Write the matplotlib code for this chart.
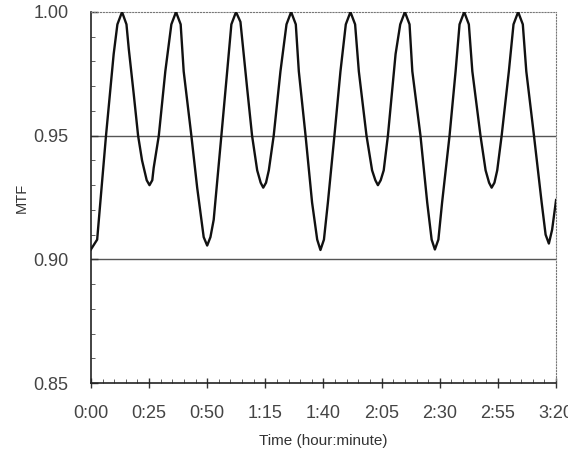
import matplotlib.pyplot as plt
from matplotlib.ticker import MultipleLocator

# values (time in minutes, MTF)
time_min = [0, 2.7, 6.5, 8.4, 9.8, 11.4, 13.4, 15.3, 16.3, 18.4, 20.3, 22.0, 24.0, 25.2,
            26.4, 27.0, 29.2, 32.0, 34.6, 36.6, 38.6, 39.9, 43.2, 45.7, 48.5, 50.0, 51.4,
            52.8, 56.1, 58.6, 60.4, 62.4, 64.3, 67.2, 69.3, 71.5, 73.0, 74.1, 75.3, 76.5,
            78.6, 81.5, 84.1, 86.1, 88.1, 89.4, 92.3, 95.1, 97.3, 98.7, 100.2, 101.9, 104.7,
            107.3, 109.6, 111.6, 113.6, 115.2, 118.5, 120.9, 122.3, 123.4, 124.6, 125.9,
            127.7, 131.0, 133.0, 135.0, 137.0, 138.2, 141.7, 144.6, 146.5, 147.9, 149.4,
            151.0, 154.2, 156.8, 158.5, 160.5, 162.5, 164.0, 167.5, 169.7, 171.2, 172.3,
            173.5, 174.7, 176.6, 179.7, 181.7, 183.7, 185.7, 187.2, 190.5, 193.8, 195.5,
            196.9, 198.3, 200.0]
mtf = [0.904, 0.908, 0.950, 0.969, 0.983, 0.995, 1.000, 0.995, 0.985, 0.967, 0.950, 0.940,
       0.932, 0.930, 0.932, 0.937, 0.950, 0.976, 0.995, 1.000, 0.995, 0.976, 0.950, 0.929,
       0.909, 0.9056, 0.909, 0.916, 0.950, 0.976, 0.995, 1.000, 0.996, 0.969, 0.950, 0.936,
       0.931, 0.929, 0.931, 0.936, 0.950, 0.976, 0.995, 1.000, 0.995, 0.976, 0.950, 0.923,
       0.908, 0.9038, 0.908, 0.923, 0.950, 0.976, 0.995, 1.000, 0.995, 0.976, 0.950, 0.936,
       0.932, 0.930, 0.932, 0.936, 0.950, 0.983, 0.995, 1.000, 0.995, 0.976, 0.950, 0.923,
       0.908, 0.904, 0.908, 0.923, 0.950, 0.976, 0.995, 1.000, 0.995, 0.976, 0.950, 0.936,
       0.931, 0.929, 0.931, 0.936, 0.950, 0.976, 0.995, 1.000, 0.995, 0.976, 0.950, 0.923,
       0.910, 0.9064, 0.912, 0.924]

x_ticks = [0, 25, 50, 75, 100, 125, 150, 175, 200]
x_labels = ['0:00', '0:25', '0:50', '1:15', '1:40', '2:05', '2:30', '2:55', '3:20']
y_ticks = [0.85, 0.90, 0.95, 1.00]
ref_lines = [0.95, 0.90]

plt.rcParams['font.family'] = ['Liberation Sans', 'DejaVu Sans']
fig = plt.figure(figsize=(5.68, 4.61), dpi=100)
ax = fig.add_axes([0.160, 0.169, 0.819, 0.805])

for yv in ref_lines:
    ax.axhline(yv, color='#555555', lw=1.0, zorder=1)
ax.plot(time_min, mtf, color='#111111', lw=1.7, zorder=3,
        solid_joinstyle='round')

ax.set_xlim(0, 200)
ax.set_ylim(0.85, 1.00)
ax.set_xticks(x_ticks)
ax.set_xticklabels(x_labels)
ax.set_yticks(y_ticks)
ax.set_yticklabels(['%.2f' % v for v in y_ticks])
ax.xaxis.set_minor_locator(MultipleLocator(5))
ax.yaxis.set_minor_locator(MultipleLocator(0.01))

ax.tick_params(axis='both', which='major', labelsize=13, labelcolor='#444444',
               color='#333333', width=1.0)
ax.tick_params(axis='x', which='major', direction='inout', length=7, pad=12)
ax.tick_params(axis='y', which='major', direction='in', length=5, pad=16)
ax.tick_params(axis='both', which='minor', direction='in', length=3, color='#444444')

for side in ['top', 'right']:
    ax.spines[side].set_linestyle(':')
    ax.spines[side].set_color('#777777')
for side in ['left', 'bottom']:
    ax.spines[side].set_color('#222222')
    ax.spines[side].set_linewidth(1.2)

ax.set_xlabel('Time (hour:minute)', fontsize=11, color='#333333', labelpad=9)
ax.set_ylabel('MTF', fontsize=10.5, color='#333333', labelpad=3)

fig.savefig('out.png', dpi=100)
